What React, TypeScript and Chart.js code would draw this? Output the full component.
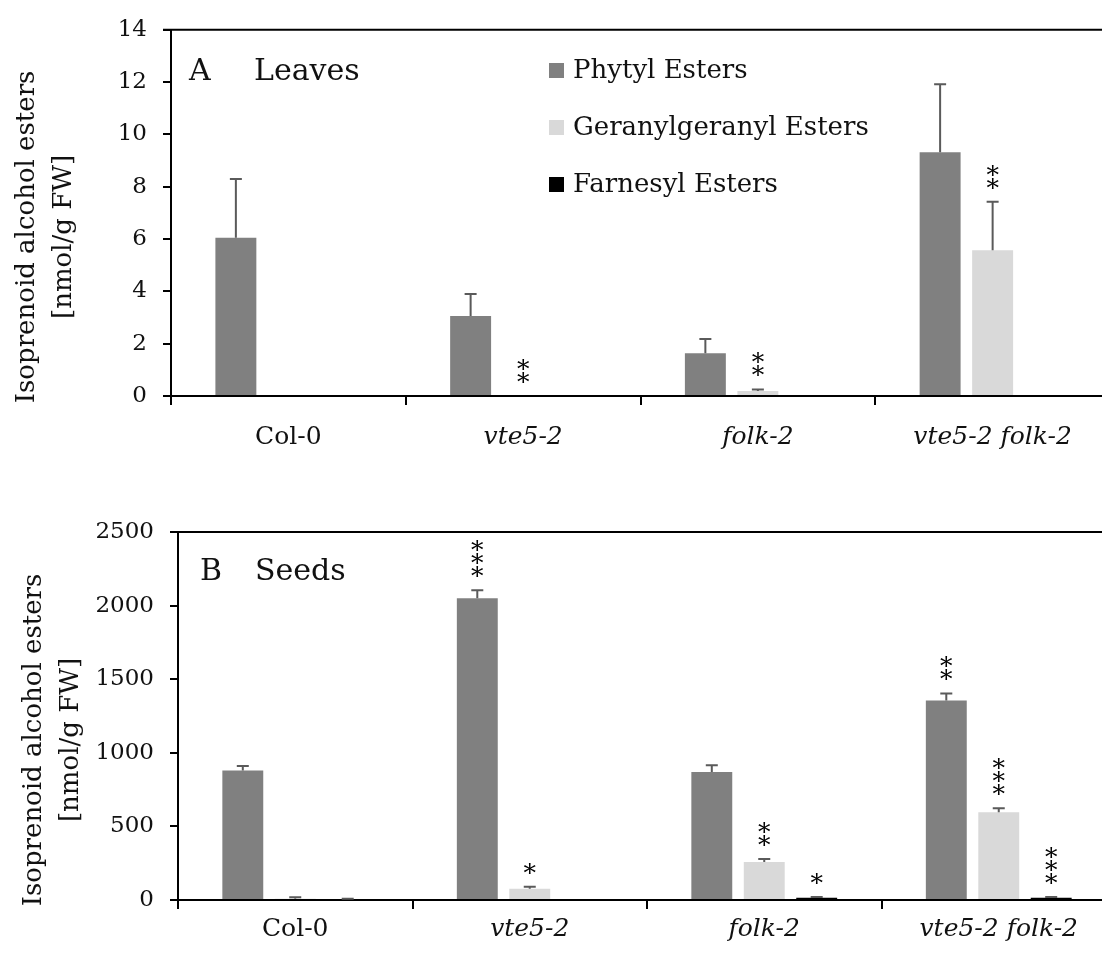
import React, { useEffect, useRef } from "react";
import { Chart, registerables } from "chart.js";

Chart.register(...registerables);

// ---- data -------------------------------------------------------------
const genotypes = ["Col-0", "vte5-2", "folk-2", "vte5-2 folk-2"];
const seriesNames = ["Phytyl Esters", "Geranylgeranyl Esters", "Farnesyl Esters"];
const seriesColors = ["#808080", "#d9d9d9", "#000000"];

// A: leaves, nmol/g FW (mean and error)
const leavesPhytyl = [6.05, 3.06, 1.63, 9.32];
const leavesPhytylErr = [2.25, 0.84, 0.55, 2.6];
const leavesGG = [0.04, 0, 0.19, 5.57];
const leavesGGErr = [0, 0, 0.06, 1.86];
const leavesFarnesyl = [0, 0, 0, 0.03];
const leavesFarnesylErr = [0, 0, 0, 0];
const leavesPhytylSig = ["", "", "", ""];
const leavesGGSig = ["", "**", "**", "**"];
const leavesFarnesylSig = ["", "", "", ""];
const leavesMax = 14;
const leavesStep = 2;

// B: seeds, nmol/g FW (mean and error)
const seedsPhytyl = [880, 2050, 870, 1355];
const seedsPhytylErr = [30, 55, 45, 48];
const seedsGG = [8, 76, 259, 596];
const seedsGGErr = [10, 14, 20, 27];
const seedsFarnesyl = [5, 6, 15, 15];
const seedsFarnesylErr = [4, 0, 6, 6];
const seedsPhytylSig = ["", "***", "", "**"];
const seedsGGSig = ["", "*", "**", "***"];
const seedsFarnesylSig = ["", "", "*", "***"];
const seedsMax = 2500;
const seedsStep = 500;

const yTitleLines = ["Isoprenoid alcohol esters", "[nmol/g FW]"];

// ---- drawing ----------------------------------------------------------
const SERIF = "'DejaVu Serif', serif";

type PanelSpec = {
  letter: string;
  name: string;
  values: number[][];
  errors: number[][];
  sig: string[][];
  max: number;
  step: number;
  axisWidth: number;
  padTop: number;
  xHeight: number;
  labelPad: number;
  letterX: number;
  nameX: number;
  headY: number;
  showLegend: boolean;
};

function buildChart(canvas: HTMLCanvasElement, spec: PanelSpec) {
  const overlay = {
    id: "overlay",
    afterDatasetsDraw(chart: any) {
      const ctx = chart.ctx as CanvasRenderingContext2D;
      const y = chart.scales.y;
      const area = chart.chartArea;
      ctx.save();

      // frame line along the top of the plot
      ctx.strokeStyle = "#000";
      ctx.lineWidth = 2;
      ctx.beginPath();
      ctx.moveTo(area.left - 8, area.top);
      ctx.lineTo(area.right, area.top);
      ctx.stroke();

      // error bars and significance stars
      spec.values.forEach((vals, i) => {
        const meta = chart.getDatasetMeta(i);
        meta.data.forEach((bar: any, j: number) => {
          const err = spec.errors[i][j];
          const top = y.getPixelForValue(vals[j] + err);
          if (err > 0) {
            ctx.strokeStyle = "#5a5a5a";
            ctx.lineWidth = 2;
            ctx.beginPath();
            ctx.moveTo(bar.x, bar.y);
            ctx.lineTo(bar.x, top);
            ctx.moveTo(bar.x - 6, top);
            ctx.lineTo(bar.x + 6, top);
            ctx.stroke();
          }
          const stars = spec.sig[i][j];
          if (stars) {
            ctx.fillStyle = "#000";
            ctx.font = `25px ${SERIF}`;
            ctx.textAlign = "center";
            ctx.textBaseline = "alphabetic";
            for (let k = 0; k < stars.length; k++) {
              const cy = top - 20 - k * 13;
              ctx.fillText("*", bar.x, cy + 14);
            }
          }
        });
      });

      // panel heading
      ctx.fillStyle = "#111";
      ctx.textAlign = "left";
      ctx.textBaseline = "middle";
      ctx.font = `30px ${SERIF}`;
      ctx.fillText(spec.letter, spec.letterX, spec.headY);
      ctx.fillText(spec.name, spec.nameX, spec.headY);

      // legend
      if (spec.showLegend) {
        ctx.font = `26px ${SERIF}`;
        seriesNames.forEach((name, i) => {
          const cy = 70 + i * 57;
          ctx.fillStyle = seriesColors[i];
          ctx.fillRect(549, cy - 7, 15, 15);
          ctx.fillStyle = "#111";
          ctx.fillText(name, 573, cy + 1);
        });
      }

      // y-axis title
      ctx.save();
      const cy = (area.top + area.bottom) / 2 + 24;
      ctx.translate(area.left - 144, cy);
      ctx.rotate(-Math.PI / 2);
      ctx.textAlign = "center";
      ctx.textBaseline = "middle";
      ctx.font = `26px ${SERIF}`;
      ctx.fillStyle = "#111";
      ctx.fillText(yTitleLines[0], 0, 0);
      ctx.fillText(yTitleLines[1], 0, 37);
      ctx.restore();

      ctx.restore();
    },
  };

  return new Chart(canvas, {
    type: "bar",
    data: {
      labels: genotypes,
      datasets: spec.values.map((vals, i) => ({
        label: seriesNames[i],
        data: vals,
        backgroundColor: seriesColors[i],
        borderWidth: 0,
        categoryPercentage: 0.671,
        barPercentage: 0.78,
      })),
    },
    options: {
      responsive: false,
      animation: false,
      devicePixelRatio: 1,
      layout: { padding: { top: spec.padTop, left: 0, right: 2, bottom: 0 } },
      plugins: {
        legend: { display: false },
        tooltip: { enabled: false },
      },
      scales: {
        x: {
          grid: {
            display: true,
            drawOnChartArea: false,
            drawTicks: true,
            tickLength: 9,
            color: "#000",
            lineWidth: 2,
            offset: true,
          },
          border: { display: true, color: "#000", width: 2 },
          ticks: {
            padding: spec.labelPad,
            color: "#111",
            font: (c: any) => ({
              family: SERIF,
              size: 25,
              style: c.index === 0 ? "normal" : "italic",
            }),
          },
          afterFit: (s: any) => {
            s.height = spec.xHeight;
          },
        },
        y: {
          min: 0,
          max: spec.max,
          grid: {
            display: true,
            drawOnChartArea: false,
            drawTicks: true,
            tickLength: 8,
            color: "#000",
            lineWidth: 2,
          },
          border: { display: true, color: "#000", width: 2 },
          ticks: {
            stepSize: spec.step,
            padding: 16,
            color: "#111",
            font: { family: SERIF, size: 23 },
            callback: (v: any) => String(v),
          },
          afterFit: (s: any) => {
            s.width = spec.axisWidth;
          },
        },
      },
    },
    plugins: [overlay],
  });
}

export default function App() {
  const topRef = useRef<HTMLCanvasElement | null>(null);
  const bottomRef = useRef<HTMLCanvasElement | null>(null);

  useEffect(() => {
    const leaves = buildChart(topRef.current!, {
      letter: "A",
      name: "Leaves",
      values: [leavesPhytyl, leavesGG, leavesFarnesyl],
      errors: [leavesPhytylErr, leavesGGErr, leavesFarnesylErr],
      sig: [leavesPhytylSig, leavesGGSig, leavesFarnesylSig],
      max: leavesMax,
      step: leavesStep,
      axisWidth: 171,
      padTop: 25,
      xHeight: 74,
      labelPad: 17,
      letterX: 189,
      nameX: 254,
      headY: 72,
      showLegend: true,
    });
    const seeds = buildChart(bottomRef.current!, {
      letter: "B",
      name: "Seeds",
      values: [seedsPhytyl, seedsGG, seedsFarnesyl],
      errors: [seedsPhytylErr, seedsGGErr, seedsFarnesylErr],
      sig: [seedsPhytylSig, seedsGGSig, seedsFarnesylSig],
      max: seedsMax,
      step: seedsStep,
      axisWidth: 178,
      padTop: 62,
      xHeight: 60,
      labelPad: 5,
      letterX: 200,
      nameX: 255,
      headY: 102,
      showLegend: false,
    });
    return () => {
      leaves.destroy();
      seeds.destroy();
    };
  }, []);

  return (
    <div style={{ position: "relative", width: 1102, height: 953, overflow: "hidden", background: "#fff" }}>
      <style>{"body{margin:0;}"}</style>
      <canvas ref={topRef} width={1112} height={470} style={{ position: "absolute", left: 0, top: 0 }} />
      <canvas ref={bottomRef} width={1118} height={490} style={{ position: "absolute", left: 0, top: 470 }} />
    </div>
  );
}
